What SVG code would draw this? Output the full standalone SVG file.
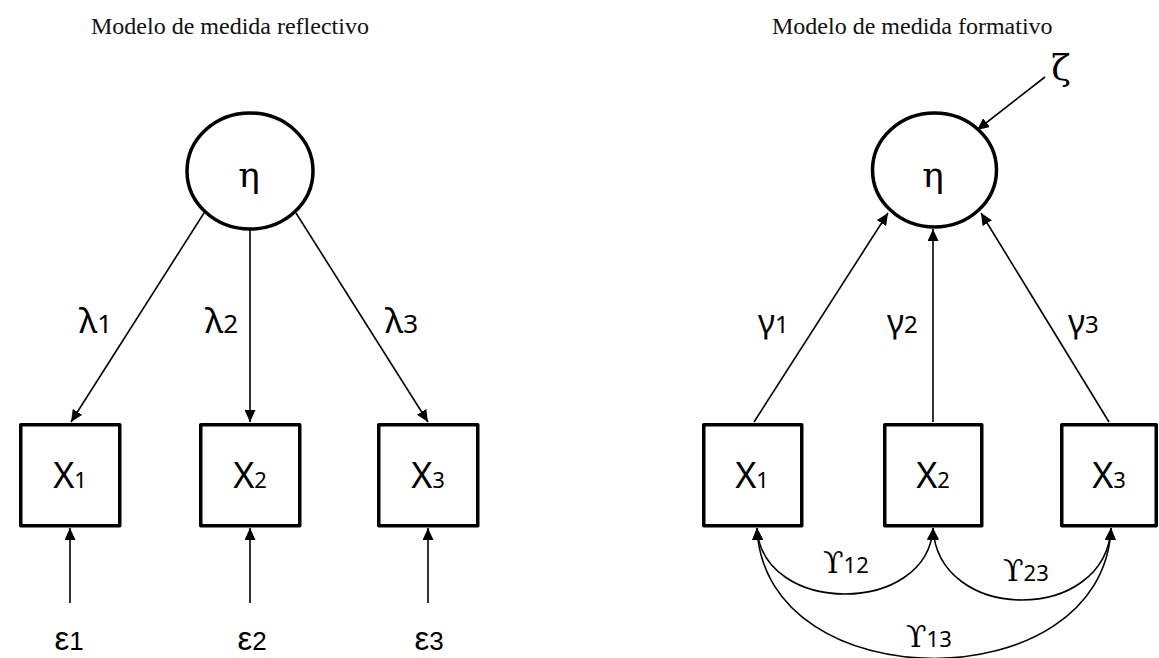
<svg xmlns="http://www.w3.org/2000/svg" width="1159" height="658" viewBox="0 0 1159 658">
  <style>
    .title { font-family: "Liberation Serif", "Times New Roman", serif; font-size: 24px; fill: #111; }
    .box { fill: #fff; stroke: #000; stroke-width: 3.5; stroke-linejoin: round; }
    .latent { fill: #fff; stroke: #000; stroke-width: 3.5; }
    .var { font-family: "Noto Sans", "Open Sans", sans-serif; font-size: 36px; fill: #000; }
    .var tspan { font-size: 22px; }
    .eta { font-family: "DejaVu Serif", "Liberation Serif", serif; font-size: 36px; fill: #000; }
    .coef { font-family: "Noto Sans", "DejaVu Sans", sans-serif; font-size: 35px; fill: #000; }
    .coef tspan { font-size: 26px; }
    .err { font-family: "Liberation Sans", Arial, sans-serif; font-size: 33px; fill: #000; }
    .err tspan { font-size: 26px; }
    .gam { font-family: "Noto Sans", "DejaVu Sans", sans-serif; font-size: 33px; fill: #000; }
    .gam tspan { font-size: 24px; }
    .ups { font-family: "DejaVu Serif", "Liberation Serif", serif; font-size: 30px; fill: #000; }
    .ups tspan { font-family: "Noto Sans", sans-serif; font-size: 22px; }
    .edge { fill: none; stroke: #000; stroke-width: 1.6; }
    .arrow { marker-end: url(#head); }
    .both { marker-start: url(#headStart); marker-end: url(#head); }
  </style>
  <defs>
    <marker id="head" markerUnits="userSpaceOnUse" markerWidth="12" markerHeight="11" refX="12" refY="5.5" orient="auto">
      <path d="M0,0 L12,5.5 L0,11 z" fill="#000"/>
    </marker>
    <marker id="headStart" markerUnits="userSpaceOnUse" markerWidth="12" markerHeight="11" refX="12" refY="5.5" orient="auto-start-reverse">
      <path d="M0,0 L12,5.5 L0,11 z" fill="#000"/>
    </marker>
  </defs>

  <rect width="1159" height="658" fill="#fff"/>

  <text class="title" x="91" y="34">Modelo de medida reflectivo</text>
  <text class="title" x="772" y="34">Modelo de medida formativo</text>

  <!-- connectors -->
  <g id="connectors">
    <!-- reflective: loadings from eta to indicators -->
    <line class="edge arrow" x1="204" y1="213" x2="71" y2="422"/>
    <line class="edge arrow" x1="250" y1="229" x2="250" y2="422"/>
    <line class="edge arrow" x1="296" y1="213" x2="428" y2="422"/>
    <!-- reflective: measurement errors -->
    <line class="edge arrow" x1="70" y1="603" x2="70" y2="528"/>
    <line class="edge arrow" x1="250" y1="603" x2="250" y2="528"/>
    <line class="edge arrow" x1="428" y1="603" x2="428" y2="528"/>
    <!-- formative: weights from indicators to eta -->
    <line class="edge arrow" x1="754" y1="422" x2="888" y2="213"/>
    <line class="edge arrow" x1="933" y1="422" x2="933" y2="229"/>
    <line class="edge arrow" x1="1109" y1="422" x2="981" y2="213"/>
    <!-- disturbance -->
    <line class="edge arrow" x1="1045" y1="77" x2="977" y2="130"/>
    <!-- covariances among indicators -->
    <path class="edge both" d="M757,528 C762,616 928,616 933,528"/>
    <path class="edge both" d="M933,528 C938,624 1106,624 1111,528"/>
    <path class="edge both" d="M757,528 C764,702 1104,702 1111,528"/>
  </g>

  <!-- reflective model -->
  <g id="eta-reflective">
    <ellipse class="latent" cx="250" cy="171" rx="63" ry="58"/>
    <text class="eta" x="249" y="187" text-anchor="middle">η</text>
  </g>
  <g id="x1-reflective">
    <rect class="box" x="20.75" y="424.75" width="99" height="101"/>
    <text class="var" x="70" y="488" text-anchor="middle">X<tspan>1</tspan></text>
  </g>
  <g id="x2-reflective">
    <rect class="box" x="200.75" y="424.75" width="99" height="101"/>
    <text class="var" x="250" y="488" text-anchor="middle">X<tspan>2</tspan></text>
  </g>
  <g id="x3-reflective">
    <rect class="box" x="378.75" y="424.75" width="99" height="101"/>
    <text class="var" x="428" y="488" text-anchor="middle">X<tspan>3</tspan></text>
  </g>
  <g id="loadings">
    <text class="coef" x="79" y="333">λ<tspan>1</tspan></text>
    <text class="coef" x="205" y="333">λ<tspan>2</tspan></text>
    <text class="coef" x="385" y="333">λ<tspan>3</tspan></text>
  </g>
  <g id="errors">
    <text class="err" x="69" y="650" text-anchor="middle">ε<tspan>1</tspan></text>
    <text class="err" x="252" y="650" text-anchor="middle">ε<tspan>2</tspan></text>
    <text class="err" x="429" y="650" text-anchor="middle">ε<tspan>3</tspan></text>
  </g>

  <!-- formative model -->
  <g id="eta-formative">
    <ellipse class="latent" cx="934.5" cy="170" rx="62" ry="57"/>
    <text class="eta" x="933" y="187" text-anchor="middle">η</text>
  </g>
  <g id="zeta">
    <text class="eta" x="1061" y="80" text-anchor="middle">ζ</text>
  </g>
  <g id="x1-formative">
    <rect class="box" x="703.75" y="424.75" width="98" height="101"/>
    <text class="var" x="752" y="488" text-anchor="middle">X<tspan>1</tspan></text>
  </g>
  <g id="x2-formative">
    <rect class="box" x="884.75" y="424.75" width="97" height="101"/>
    <text class="var" x="933" y="488" text-anchor="middle">X<tspan>2</tspan></text>
  </g>
  <g id="x3-formative">
    <rect class="box" x="1061.75" y="424.75" width="94.5" height="101"/>
    <text class="var" x="1109" y="488" text-anchor="middle">X<tspan>3</tspan></text>
  </g>
  <g id="weights">
    <text class="gam" x="758" y="333">γ<tspan>1</tspan></text>
    <text class="gam" x="887" y="333">γ<tspan>2</tspan></text>
    <text class="gam" x="1068" y="333">γ<tspan>3</tspan></text>
  </g>
  <g id="covariances">
    <text class="ups" x="823" y="573">ϒ<tspan>12</tspan></text>
    <text class="ups" x="1003" y="581">ϒ<tspan>23</tspan></text>
    <text class="ups" x="906" y="647">ϒ<tspan>13</tspan></text>
  </g>
</svg>
